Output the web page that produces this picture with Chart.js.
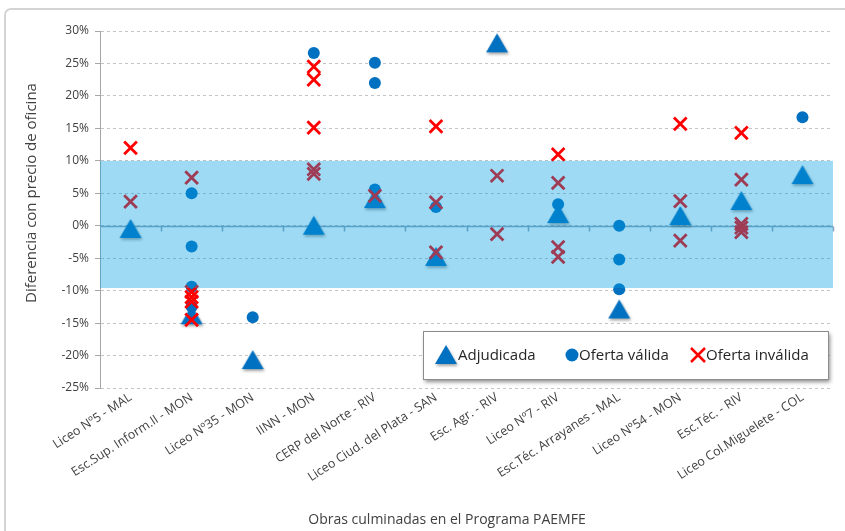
<!DOCTYPE html>
<html>
<head>
<meta charset="utf-8">
<script src="https://cdn.jsdelivr.net/npm/chart.js@4.4.1/dist/chart.umd.min.js"></script>
<style>
    html, body { margin: 0; padding: 0; background: #fff; }
    #wrap { position: relative; width: 845px; height: 531px; }
</style>
</head>
<body>
<div id="wrap"><canvas id="chart" width="845" height="531"></canvas></div>
<script>
// obras (eje x)
const categories = [
    'Liceo Nº5 - MAL', 'Esc.Sup. Inform.II - MON', 'Liceo Nº35 - MON', 'IINN - MON',
    'CERP del Norte - RIV', 'Liceo Ciud. del Plata - SAN', 'Esc. Agr. - RIV', 'Liceo Nº7 - RIV',
    'Esc.Téc. Arrayanes - MAL', 'Liceo Nº54 - MON', 'Esc.Téc. - RIV', 'Liceo Col.Miguelete - COL'
];

// diferencia con precio de oficina (%)
const adjudicada = [-0.5, -13.8, -20.7, 0, 4.1, -4.8, 28.1, 1.8, -12.9, 1.5, 3.8, 7.8];

const ofertaValida = [
    [],
    [5.0, -3.2, -9.4, -12.5],
    [-14.1],
    [26.6],
    [25.1, 22.0, 5.6],
    [2.9],
    [],
    [3.3],
    [0, -5.2, -9.8],
    [],
    [],
    [16.7]
];

const ofertaInvalida = [
    [12.0, 3.7],
    [7.4, -10.2, -11.0, -11.7, -14.5],
    [],
    [24.5, 22.5, 15.1, 8.7, 8.0],
    [4.6],
    [15.3, 3.6, -4.1],
    [7.7, -1.3],
    [11.0, 6.6, -3.3, -4.8],
    [],
    [15.7, 3.8, -2.3],
    [14.3, 7.1, 0.3, -0.3, -1.0],
    []
];

const seriesNames = ['Adjudicada', 'Oferta válida', 'Oferta inválida'];

// eje y y franja de +-10%
const yMin = -25, yMax = 30, yStep = 5;
const bandLow = -9.6, bandHigh = 10;

const FONT = "'Open Sans', sans-serif";
const BLUE = '#0070c0';
const RED = '#ff0000';

// triangulo con sombra como imagen
function makeTriangle() {
    const c = document.createElement('canvas');
    c.width = 30; c.height = 30;
    const g = c.getContext('2d');
    g.shadowColor = 'rgba(0,0,0,0.35)';
    g.shadowBlur = 3;
    g.shadowOffsetX = 1;
    g.shadowOffsetY = 2;
    g.fillStyle = BLUE;
    g.beginPath();
    g.moveTo(15, 5);
    g.lineTo(26, 24);
    g.lineTo(4, 24);
    g.closePath();
    g.fill();
    return c;
}
const triangleImg = makeTriangle();

function toPoints(list) {
    const pts = [];
    list.forEach((vals, i) => {
        [].concat(vals).forEach(v => pts.push({ x: categories[i], y: v }));
    });
    return pts;
}

const decoPlugin = {
    id: 'deco',
    beforeDraw(chart) {
        const ctx = chart.ctx;
        ctx.save();
        ctx.fillStyle = '#fff';
        ctx.fillRect(0, 0, chart.width, chart.height);
        ctx.strokeStyle = '#d4d4d4';
        ctx.lineWidth = 2;
        ctx.beginPath();
        ctx.roundRect(5, 9, 900, 600, 6);
        ctx.stroke();
        ctx.restore();
    },
    beforeDatasetsDraw(chart) {
        const { ctx, chartArea, scales } = chart;
        const y0 = Math.round(scales.y.getPixelForValue(0)) + 0.5;
        ctx.save();
        ctx.strokeStyle = '#8fa3b8';
        ctx.lineWidth = 1.5;
        ctx.beginPath();
        ctx.moveTo(chartArea.left, y0);
        ctx.lineTo(chartArea.right, y0);
        for (let i = 0; i < categories.length; i++) {
            const x = Math.round((scales.x.getPixelForValue(i) + scales.x.getPixelForValue(i + 1)) / 2) + 0.5;
            ctx.moveTo(x, y0);
            ctx.lineTo(x, y0 + 5);
        }
        ctx.stroke();
        ctx.restore();
    },
    afterDatasetsDraw(chart) {
        const { ctx, chartArea, scales } = chart;
        const top = scales.y.getPixelForValue(bandHigh);
        const bottom = scales.y.getPixelForValue(bandLow);
        ctx.save();
        ctx.fillStyle = 'rgba(0,158,226,0.38)';
        ctx.fillRect(chartArea.left, top, chartArea.right - chartArea.left, bottom - top);
        ctx.restore();
    },
    afterDraw(chart) {
        const ctx = chart.ctx;
        const sets = chart.data.datasets;
        ctx.save();

        // leyenda
        const bx = 423, by = 331, bw = 405, bh = 48;
        ctx.shadowColor = 'rgba(0,0,0,0.45)';
        ctx.shadowBlur = 4;
        ctx.shadowOffsetX = 2;
        ctx.shadowOffsetY = 3;
        ctx.fillStyle = '#fff';
        ctx.fillRect(bx, by, bw, bh);
        ctx.shadowColor = 'transparent';
        ctx.strokeStyle = '#8c8c8c';
        ctx.lineWidth = 1;
        ctx.strokeRect(bx + 0.5, by + 0.5, bw, bh);

        const cy = by + bh / 2;
        ctx.font = '15px ' + FONT;
        ctx.fillStyle = '#262626';
        ctx.textBaseline = 'middle';
        ctx.textAlign = 'left';

        ctx.drawImage(triangleImg, 431, cy - 15);
        ctx.fillText(sets[0].label, 458, cy + 1);

        ctx.fillStyle = BLUE;
        ctx.beginPath();
        ctx.arc(572, cy, 6.5, 0, Math.PI * 2);
        ctx.fill();
        ctx.fillStyle = '#262626';
        ctx.fillText(sets[1].label, 579, cy + 1);

        ctx.strokeStyle = RED;
        ctx.lineWidth = 2.5;
        ctx.beginPath();
        ctx.moveTo(691, cy - 7); ctx.lineTo(705, cy + 7);
        ctx.moveTo(705, cy - 7); ctx.lineTo(691, cy + 7);
        ctx.stroke();
        ctx.fillText(sets[2].label, 706, cy + 1);

        // titulos de ejes
        ctx.fillStyle = '#404040';
        ctx.font = '14px ' + FONT;
        ctx.textAlign = 'center';
        ctx.fillText('Obras culminadas en el Programa PAEMFE', 447, 520);

        ctx.font = '15px ' + FONT;
        ctx.translate(32, 193);
        ctx.rotate(-Math.PI / 2);
        ctx.fillText('Diferencia con precio de oficina', 0, 0);
        ctx.restore();
    }
};

new Chart(document.getElementById('chart'), {
    type: 'line',
    data: {
        labels: categories,
        datasets: [
            {
                label: seriesNames[0],
                data: toPoints(adjudicada),
                showLine: false,
                pointStyle: triangleImg,
                pointRadius: 11,
                order: 3
            },
            {
                label: seriesNames[1],
                data: toPoints(ofertaValida),
                showLine: false,
                pointStyle: 'circle',
                pointRadius: 6,
                pointBackgroundColor: BLUE,
                pointBorderWidth: 0,
                order: 2
            },
            {
                label: seriesNames[2],
                data: toPoints(ofertaInvalida),
                showLine: false,
                pointStyle: 'crossRot',
                pointRadius: 9,
                pointBorderColor: RED,
                pointBorderWidth: 2.8,
                order: 1
            }
        ]
    },
    plugins: [decoPlugin],
    options: {
        responsive: false,
        animation: false,
        events: [],
        layout: { padding: { top: 31, right: 7, bottom: 0, left: 0 } },
        plugins: {
            legend: { display: false },
            tooltip: { enabled: false }
        },
        scales: {
            x: {
                type: 'category',
                offset: true,
                grid: { display: false, drawTicks: false },
                border: { display: false },
                ticks: {
                    autoSkip: false,
                    maxRotation: 33,
                    minRotation: 33,
                    padding: 2,
                    color: '#404040',
                    font: { family: FONT, size: 12.5 }
                },
                afterFit(scale) { scale.height = 143; }
            },
            y: {
                min: yMin,
                max: yMax,
                ticks: {
                    stepSize: yStep,
                    padding: 6,
                    color: '#404040',
                    font: { family: FONT, size: 12 },
                    callback: v => v + '%'
                },
                grid: {
                    color: '#c4c4c4',
                    tickColor: '#a6a6a6',
                    tickLength: 5,
                    tickBorderDash: []
                },
                border: { display: true, color: '#a6a6a6', dash: [3, 3] },
                afterFit(scale) { scale.width = 100; }
            }
        }
    }
});
</script>
</body>
</html>
